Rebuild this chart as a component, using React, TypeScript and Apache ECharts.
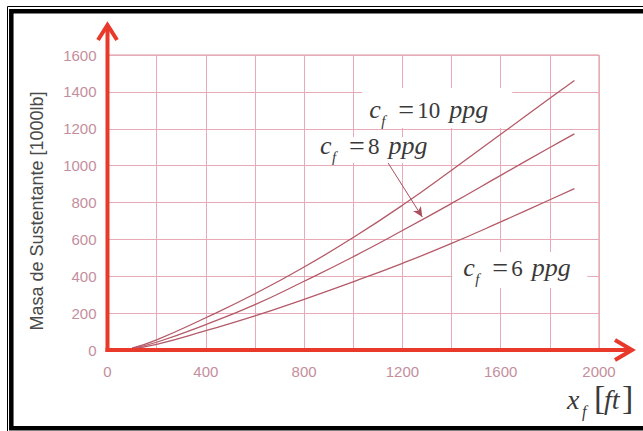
import React, { useEffect, useRef } from "react";
import * as echarts from "echarts";

// ---- data ----
const xValues = [100, 200, 400, 600, 800, 1000, 1200, 1400, 1600, 1800, 1900];
const cf10 = [10, 55, 175, 305, 450, 610, 785, 975, 1170, 1365, 1462];
const cf8 = [9, 42, 138, 246, 373, 506, 648, 795, 947, 1098, 1172];
const cf6 = [8, 31, 105, 185, 275, 370, 470, 578, 695, 815, 875];
const xLabelValues = [0, 400, 800, 1200, 1600, 2000];
const seriesNames = ["cf10", "cf8", "cf6"];
const labelNumbers = ["10", "8", "6"];
// annotation anchors (data coords): baseline-left of each "c_f = n ppg" label
const labelAnchors = [
  [1065, 1253],
  [865, 1058],
  [1448, 396],
];
const arrow8 = [
  [1142, 1014],
  [1281, 721],
];
const yTitle = "Masa de Sustentante [1000lb]";

const SANS = '"Liberation Sans", Arial, Helvetica, sans-serif';
const SERIF = '"Liberation Serif", "Times New Roman", serif';
const RED = "#e8392b";
const CURVE = "#b45a68";
const TICK = "#c48e9c";
const TXT = "#3a3a3a";

export default function App() {
  const ref = useRef<HTMLDivElement>(null);
  useEffect(() => {
    const chart = echarts.init(ref.current!, null, { renderer: "svg" });
    const mk = (name: string, vals: number[], extra: any = {}) => ({
      type: "line",
      name,
      data: xValues.map((x, i) => [x, vals[i]]),
      smooth: 0.5,
      symbol: "none",
      showSymbol: false,
      silent: true,
      z: 3,
      lineStyle: { color: CURVE, width: 1.3 },
      ...extra,
    });
    chart.setOption({
      animation: false,
      grid: {
        left: 107.5,
        right: 44,
        top: 55,
        bottom: 81,
        show: true,
        borderColor: "#d78e9d",
        borderWidth: 1,
        backgroundColor: "transparent",
      },
      xAxis: {
        type: "value",
        min: 0,
        max: 2000,
        interval: 200,
        axisLine: { show: false },
        axisTick: { show: false },
        splitLine: { show: true, lineStyle: { color: "#e8aab7", width: 1 } },
        axisLabel: {
          formatter: (v: number) => (xLabelValues.includes(v) ? String(v) : ""),
          color: TICK,
          fontSize: 15,
          fontFamily: SANS,
          margin: 14,
        },
      },
      yAxis: {
        type: "value",
        min: 0,
        max: 1600,
        interval: 200,
        axisLine: { show: false },
        axisTick: { show: false },
        splitLine: { show: true, lineStyle: { color: "#e8aab7", width: 1 } },
        axisLabel: {
          formatter: (v: number) => String(v),
          color: TICK,
          fontSize: 15,
          fontFamily: SANS,
          margin: 11,
        },
      },
      series: [
        mk(seriesNames[0], cf10),
        mk(seriesNames[1], cf8, {
          markLine: {
            silent: true,
            symbol: ["none", "arrow"],
            symbolSize: [7, 10],
            label: { show: false },
            lineStyle: { color: "#a9505e", width: 1, type: "solid" },
            data: [[{ coord: arrow8[0] }, { coord: arrow8[1] }]],
          },
        }),
        mk(seriesNames[2], cf6),
      ],
    });

    const P = (x: number, y: number) =>
      chart.convertToPixel({ gridIndex: 0 }, [x, y]) as number[];
    const O = P(0, 0);
    const XE = P(2000, 0);
    const YE = P(0, 1600);

    const g: any[] = [];
    // white backgrounds behind labels (below the curves, above the grid)
    const bgs = [
      [-7, -31, 150, 40],
      [-5, -18, 117, 26],
      [-11, -25, 135, 36],
    ];
    labelAnchors.forEach((a, i) => {
      const [bx, by] = P(a[0], a[1]);
      const b = bgs[i];
      g.push({
        type: "rect",
        z: 1,
        shape: { x: bx + b[0], y: by + b[1], width: b[2], height: b[3] },
        style: { fill: "#ffffff" },
      });
      const num = labelNumbers[i];
      const numW = num.length * 11.5;
      g.push(
        { type: "text", z: 6, x: bx, y: by - 9, style: { text: "c", font: `italic 26px ${SERIF}`, fill: TXT, verticalAlign: "middle" } },
        { type: "text", z: 6, x: bx + 12, y: by + 2, style: { text: "f", font: `italic 15px ${SERIF}`, fill: TXT, verticalAlign: "middle" } },
        { type: "text", z: 6, x: bx + 29, y: by - 9.5, style: { text: "=", font: `28px ${SERIF}`, fill: TXT, verticalAlign: "middle" } },
        { type: "text", z: 6, x: bx + 48, y: by - 8, style: { text: num, font: `23px ${SERIF}`, fill: TXT, verticalAlign: "middle" } },
        { type: "text", z: 6, x: bx + 48 + numW + 9, y: by - 9, style: { text: "ppg", font: `italic 26px ${SERIF}`, fill: TXT, verticalAlign: "middle" } }
      );
    });

    // red axes with open arrow heads
    const axisStyle = { stroke: RED, lineWidth: 4, fill: "none", lineJoin: "miter", lineCap: "butt" };
    g.push(
      { type: "line", z: 7, shape: { x1: O[0], y1: O[1] + 2, x2: O[0], y2: YE[1] - 29 }, style: axisStyle },
      { type: "line", z: 7, shape: { x1: O[0] - 2, y1: O[1], x2: XE[0] + 32, y2: O[1] }, style: axisStyle },
      {
        type: "polyline",
        z: 7,
        shape: { points: [[O[0] - 9.5, YE[1] - 15], [O[0], YE[1] - 30], [O[0] + 9.5, YE[1] - 15]] },
        style: axisStyle,
      },
      {
        type: "polyline",
        z: 7,
        shape: { points: [[XE[0] + 16, O[1] - 10], [XE[0] + 33, O[1]], [XE[0] + 16, O[1] + 10]] },
        style: axisStyle,
      }
    );

    // x-axis name x_f [ft]
    const nx = XE[0] - 32;
    const ny = O[1] + 59;
    g.push(
      { type: "text", z: 6, x: nx, y: ny - 10, style: { text: "x", font: `italic 28px ${SERIF}`, fill: TXT, verticalAlign: "middle" } },
      { type: "text", z: 6, x: nx + 15, y: ny + 2, style: { text: "f", font: `italic 16px ${SERIF}`, fill: TXT, verticalAlign: "middle" } },
      { type: "text", z: 6, x: nx + 27, y: ny - 12, style: { text: "[", font: `34px ${SERIF}`, fill: TXT, verticalAlign: "middle" } },
      { type: "text", z: 6, x: nx + 37, y: ny - 10, style: { text: "ft", font: `italic 28px ${SERIF}`, fill: TXT, verticalAlign: "middle" } },
      { type: "text", z: 6, x: nx + 55, y: ny - 12, style: { text: "]", font: `34px ${SERIF}`, fill: TXT, verticalAlign: "middle" } }
    );

    // y-axis title
    g.push({
      type: "text",
      z: 6,
      x: 37,
      y: 211,
      rotation: Math.PI / 2,
      style: {
        text: yTitle,
        font: `18px ${SANS}`,
        fill: "#4a4a4a",
        align: "center",
        verticalAlign: "middle",
      },
    });

    // black frame
    g.push(
      { type: "rect", z: 8, shape: { x: 7.5, y: 6.5, width: 700, height: 440 }, style: { fill: "none", stroke: "#000", lineWidth: 1 } },
      { type: "rect", z: 8, shape: { x: 11.3, y: 11.3, width: 700, height: 417 }, style: { fill: "none", stroke: "#000", lineWidth: 4.5 } }
    );

    chart.setOption({ graphic: g });
    return () => chart.dispose();
  }, []);
  return (
    <div
      ref={ref}
      style={{ position: "absolute", left: 0, top: 0, width: 643, height: 431, background: "#ffffff" }}
    />
  );
}
